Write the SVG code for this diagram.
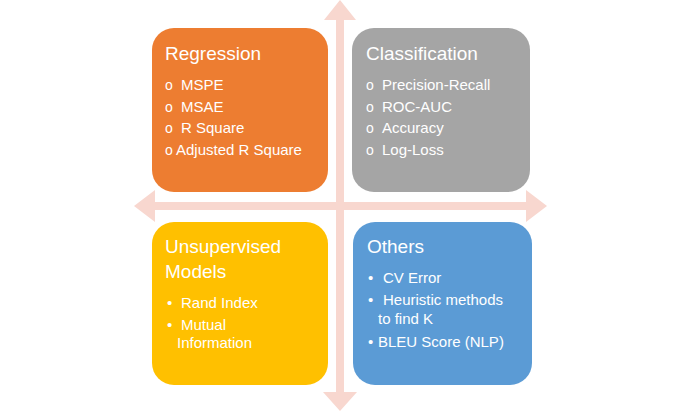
<svg xmlns="http://www.w3.org/2000/svg" width="680" height="411" viewBox="0 0 680 411">
<style>
.ar{fill:#F8D7CF}
.t{font-family:"Liberation Sans",Arial,sans-serif;fill:#fff}
.h{font-size:19px}
.i{font-size:15px}
.o{font-size:14px}
</style>
<rect width="680" height="411" fill="#fff"/>
<g id="connectors">
<polygon class="ar" points="340,0 356,20 344,20 344,392 357,392 340,411 323,392 336,392 336,20 324,20"/>
<polygon class="ar" points="134,206 155,190 155,202 526,202 526,190 547,206 526,222 526,210 155,210 155,222"/>
</g>
<g id="regression">
<rect x="152" y="28" width="176" height="164" rx="22" fill="#ED7D31"/>
<text class="t h" x="165" y="60">Regression</text>
<text class="t o" x="165" y="90">o</text><text class="t i" x="181" y="90">MSPE</text>
<text class="t o" x="165" y="112">o</text><text class="t i" x="181" y="112">MSAE</text>
<text class="t o" x="165" y="133">o</text><text class="t i" x="181" y="133">R Square</text>
<text class="t o" x="165" y="155">o</text><text class="t i" x="176" y="155">Adjusted R Square</text>
</g>
<g id="classification">
<rect x="352" y="28" width="178" height="164" rx="22" fill="#A5A5A5"/>
<text class="t h" x="366" y="60">Classification</text>
<text class="t o" x="366" y="90">o</text><text class="t i" x="382" y="90">Precision-Recall</text>
<text class="t o" x="366" y="112">o</text><text class="t i" x="382" y="112">ROC-AUC</text>
<text class="t o" x="366" y="133">o</text><text class="t i" x="382" y="133">Accuracy</text>
<text class="t o" x="366" y="155">o</text><text class="t i" x="382" y="155">Log-Loss</text>
</g>
<g id="unsupervised">
<rect x="152" y="222" width="176" height="163" rx="22" fill="#FFC000"/>
<text class="t h" x="165" y="253">Unsupervised</text>
<text class="t h" x="165" y="278">Models</text>
<text class="t i" x="167" y="308">•</text><text class="t i" x="181" y="308">Rand Index</text>
<text class="t i" x="167" y="330">•</text><text class="t i" x="181" y="330">Mutual</text>
<text class="t i" x="177" y="348">Information</text>
</g>
<g id="others">
<rect x="353" y="222" width="179" height="163" rx="22" fill="#5B9BD5"/>
<text class="t h" x="367" y="253">Others</text>
<text class="t i" x="368" y="283">•</text><text class="t i" x="383" y="283">CV Error</text>
<text class="t i" x="368" y="305">•</text><text class="t i" x="383" y="305">Heuristic methods</text>
<text class="t i" x="378" y="324">to find K</text>
<text class="t i" x="368" y="347">•</text><text class="t i" x="378" y="347">BLEU Score (NLP)</text>
</g>
</svg>
